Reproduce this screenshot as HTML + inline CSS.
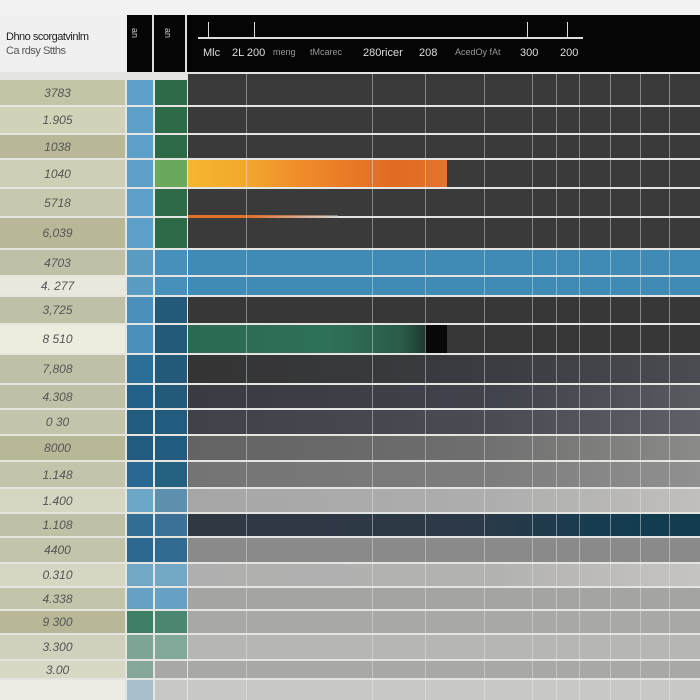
<!DOCTYPE html>
<html><head><meta charset="utf-8"><style>
*{margin:0;padding:0;box-sizing:border-box}
body{width:700px;height:700px;overflow:hidden;background:#e4e4e0;position:relative;font-family:"Liberation Sans",sans-serif}
.a{position:absolute}
.lb{position:absolute;left:0;width:125px;color:#555;font-size:12px;text-align:center;padding-right:10px;font-style:italic;display:flex;align-items:center;justify-content:center}
.c1{position:absolute;left:127px;width:26px}
.c2{position:absolute;left:155px;width:32px}
.ch{position:absolute;left:188px;width:512px}
.vl{position:absolute;top:72px;height:628px;width:1px;background:rgba(230,230,230,.45)}
.hd{position:absolute;color:#ddd;font-size:11px;top:47px}
</style></head><body>
<div class="a" style="left:0;top:0;width:700px;height:15px;background:#f2f2f2"></div>
<div class="a" style="left:127px;top:15px;width:573px;height:57px;background:#050505"></div>
<div class="a" style="left:0;top:15px;width:127px;height:57px;background:#f0f0f0"></div>
<div class="a" style="left:6px;top:31px;font-size:11px;color:#222;letter-spacing:-0.5px">Dhno scorgatvinlm</div>
<div class="a" style="left:6px;top:45px;font-size:11px;color:#555;letter-spacing:-0.5px">Ca rdsy Stths</div>
<div class="a" style="left:152px;top:15px;width:2px;height:57px;background:#ddd"></div>
<div class="a" style="left:185px;top:15px;width:2px;height:57px;background:#ddd"></div>
<div class="a" style="left:130px;top:28px;font-size:9px;color:#ccc;transform:rotate(90deg)">an</div>
<div class="a" style="left:163px;top:28px;font-size:9px;color:#ccc;transform:rotate(90deg)">an</div>
<div class="a" style="left:198px;top:37px;width:385px;height:2px;background:#ddd"></div>
<div class="a" style="left:208px;top:22px;width:1px;height:15px;background:#ddd"></div>
<div class="a" style="left:254px;top:22px;width:1px;height:15px;background:#ddd"></div>
<div class="a" style="left:527px;top:22px;width:1px;height:15px;background:#ddd"></div>
<div class="a" style="left:567px;top:22px;width:1px;height:15px;background:#ddd"></div>
<div class="hd" style="left:203px">Mlc</div>
<div class="hd" style="left:232px">2L 200</div>
<div class="hd" style="left:273px;font-size:9px;color:#999">meng</div>
<div class="hd" style="left:310px;font-size:9px;color:#999">tMcarec</div>
<div class="hd" style="left:363px">280ricer</div>
<div class="hd" style="left:419px">208</div>
<div class="hd" style="left:455px;font-size:9px;color:#999">AcedOy fAt</div>
<div class="hd" style="left:520px">300</div>
<div class="hd" style="left:560px">200</div>

<!-- rows -->
<div class="lb" style="top:80px;height:25px;background:#c4c4a6">3783</div><div class="c1" style="top:80px;height:25px;background:#5d9fc6"></div><div class="c2" style="top:80px;height:25px;background:#2d6a47"></div><div class="ch" style="top:74px;height:31px;background:#3a3a3a"></div>
<div class="lb" style="top:107px;height:26px;background:#d2d2b8">1.905</div><div class="c1" style="top:107px;height:26px;background:#5d9fc6"></div><div class="c2" style="top:107px;height:26px;background:#2d6a47"></div><div class="ch" style="top:107px;height:26px;background:#3a3a3a"></div>
<div class="lb" style="top:135px;height:23px;background:#b8b898">1038</div><div class="c1" style="top:135px;height:23px;background:#5d9fc6"></div><div class="c2" style="top:135px;height:23px;background:#2d6a47"></div><div class="ch" style="top:135px;height:23px;background:#3a3a3a"></div>
<div class="lb" style="top:160px;height:27px;background:#cfcfb6">1040</div><div class="c1" style="top:160px;height:27px;background:#5d9fc6"></div><div class="c2" style="top:160px;height:27px;background:#6aa85c"></div><div class="ch" style="top:160px;height:27px;background:#3a3a3a"></div>
<div class="a" style="left:188px;top:160px;width:259px;height:27px;background:linear-gradient(90deg,#f6b52f 0%,#f2a82e 22%,#ef8a2a 45%,#e06a22 80%,#e5742c 100%)"></div>
<div class="lb" style="top:189px;height:27px;background:#c8c8ae">5718</div><div class="c1" style="top:189px;height:27px;background:#5d9fc6"></div><div class="c2" style="top:189px;height:27px;background:#2d6a47"></div><div class="ch" style="top:189px;height:27px;background:#3a3a3a"></div>
<div class="a" style="left:188px;top:215px;width:150px;height:3px;background:linear-gradient(90deg,#e0702a,#e0702a 40%,rgba(200,200,200,.5))"></div>
<div class="lb" style="top:218px;height:30px;background:#b8b898">6,039</div><div class="c1" style="top:218px;height:30px;background:#5d9fc6"></div><div class="c2" style="top:218px;height:30px;background:#2d6a47"></div><div class="ch" style="top:218px;height:30px;background:#3a3a3a"></div>
<div class="lb" style="top:250px;height:25px;background:#c0c0a6">4703</div><div class="c1" style="top:250px;height:25px;background:#5a9cc2"></div><div class="c2" style="top:250px;height:25px;background:#4690bb"></div><div class="ch" style="top:250px;height:25px;background:#3f8bb6"></div>
<div class="lb" style="top:277px;height:18px;background:#e8e8dc">4. 277</div><div class="c1" style="top:277px;height:18px;background:#5a9cc2"></div><div class="c2" style="top:277px;height:18px;background:#4690bb"></div><div class="ch" style="top:277px;height:18px;background:#3f8bb6"></div>
<div class="lb" style="top:297px;height:26px;background:#c0c0a6">3,725</div><div class="c1" style="top:297px;height:26px;background:#4a90bb"></div><div class="c2" style="top:297px;height:26px;background:#235a7a"></div><div class="ch" style="top:297px;height:26px;background:#373737"></div>
<div class="lb" style="top:325px;height:28px;background:#ececdf">8 510</div><div class="c1" style="top:325px;height:28px;background:#4a90bb"></div><div class="c2" style="top:325px;height:28px;background:#235a7a"></div><div class="ch" style="top:325px;height:28px;background:#373737"></div>
<div class="a" style="left:188px;top:325px;width:237px;height:28px;background:linear-gradient(90deg,#2b6a52,#2f7059 60%,#2a5c48 90%,#1d3a30)"></div>
<div class="a" style="left:425px;top:325px;width:22px;height:28px;background:#080808"></div>
<div class="lb" style="top:355px;height:28px;background:#c0c0a6">7,808</div><div class="c1" style="top:355px;height:28px;background:#2b6f96"></div><div class="c2" style="top:355px;height:28px;background:#235a7a"></div><div class="ch" style="top:355px;height:28px;background:linear-gradient(90deg,#343434,#3a3c42 60%,#4a4c52)"></div>
<div class="lb" style="top:385px;height:23px;background:#c0c0a6">4.308</div><div class="c1" style="top:385px;height:23px;background:#236088"></div><div class="c2" style="top:385px;height:23px;background:#235a7a"></div><div class="ch" style="top:385px;height:23px;background:linear-gradient(90deg,#3a3b42,#40434b 60%,#585a60)"></div>
<div class="lb" style="top:410px;height:24px;background:#c4c4aa">0 30</div><div class="c1" style="top:410px;height:24px;background:#225b7e"></div><div class="c2" style="top:410px;height:24px;background:#225b7e"></div><div class="ch" style="top:410px;height:24px;background:linear-gradient(90deg,#40424a,#4a4c54 60%,#5e6068)"></div>
<div class="lb" style="top:436px;height:24px;background:#b8b898">8000</div><div class="c1" style="top:436px;height:24px;background:#225b7e"></div><div class="c2" style="top:436px;height:24px;background:#225b7e"></div><div class="ch" style="top:436px;height:24px;background:linear-gradient(90deg,#636363,#6e6e6e 55%,#8a8a88)"></div>
<div class="lb" style="top:462px;height:25px;background:#c4c4aa">1.148</div><div class="c1" style="top:462px;height:25px;background:#2a6891"></div><div class="c2" style="top:462px;height:25px;background:#24607f"></div><div class="ch" style="top:462px;height:25px;background:linear-gradient(90deg,#747474,#7d7d7d 60%,#909090)"></div>
<div class="lb" style="top:489px;height:23px;background:#d6d6c2">1.400</div><div class="c1" style="top:489px;height:23px;background:#6ea6c8"></div><div class="c2" style="top:489px;height:23px;background:#5d8fae"></div><div class="ch" style="top:489px;height:23px;background:linear-gradient(90deg,#a6a6a6,#aeaeae 60%,#c0bfbc)"></div>
<div class="lb" style="top:514px;height:22px;background:#c0c0a6">1.108</div><div class="c1" style="top:514px;height:22px;background:#336f95"></div><div class="c2" style="top:514px;height:22px;background:#3b7097"></div><div class="ch" style="top:514px;height:22px;background:linear-gradient(90deg,#303844,#2d3947 55%,#163c50 80%,#123c4e)"></div>
<div class="lb" style="top:538px;height:24px;background:#c4c4aa">4400</div><div class="c1" style="top:538px;height:24px;background:#2d6890"></div><div class="c2" style="top:538px;height:24px;background:#306a90"></div><div class="ch" style="top:538px;height:24px;background:#8a8a8a"></div>
<div class="lb" style="top:564px;height:22px;background:#d6d6c2">0.310</div><div class="c1" style="top:564px;height:22px;background:#72a8c6"></div><div class="c2" style="top:564px;height:22px;background:#72a8c6"></div><div class="ch" style="top:564px;height:22px;background:linear-gradient(90deg,#afafaf,#b2b2b0 60%,#c6c4c0)"></div>
<div class="lb" style="top:588px;height:21px;background:#c4c4aa">4.338</div><div class="c1" style="top:588px;height:21px;background:#66a0c2"></div><div class="c2" style="top:588px;height:21px;background:#66a0c2"></div><div class="ch" style="top:588px;height:21px;background:#a4a4a2"></div>
<div class="lb" style="top:611px;height:22px;background:#b8b898">9 300</div><div class="c1" style="top:611px;height:22px;background:#3f7f66"></div><div class="c2" style="top:611px;height:22px;background:#4a8670"></div><div class="ch" style="top:611px;height:22px;background:#a8a8a6"></div>
<div class="lb" style="top:635px;height:24px;background:#d0d0bc">3.300</div><div class="c1" style="top:635px;height:24px;background:#7fa695"></div><div class="c2" style="top:635px;height:24px;background:#82a898"></div><div class="ch" style="top:635px;height:24px;background:#b6b6b4"></div>
<div class="lb" style="top:661px;height:17px;background:#d8d8c4">3.00</div><div class="c1" style="top:661px;height:17px;background:#86a899"></div><div class="c2" style="top:661px;height:17px;background:#a8a8a6"></div><div class="ch" style="top:661px;height:17px;background:#a8a8a6"></div>
<div class="lb" style="top:680px;height:20px;background:#ecece4"></div><div class="c1" style="top:680px;height:20px;background:#a8c0cc"></div><div class="c2" style="top:680px;height:20px;background:#c8c8c6"></div><div class="ch" style="top:680px;height:20px;background:#c8c8c6"></div>

<div class="vl" style="left:246px"></div>
<div class="vl" style="left:372px"></div>
<div class="vl" style="left:425px"></div>
<div class="vl" style="left:484px"></div>
<div class="vl" style="left:532px"></div>
<div class="vl" style="left:556px"></div>
<div class="vl" style="left:579px"></div>
<div class="vl" style="left:610px"></div>
<div class="vl" style="left:640px"></div>
<div class="vl" style="left:669px"></div>
</body></html>
